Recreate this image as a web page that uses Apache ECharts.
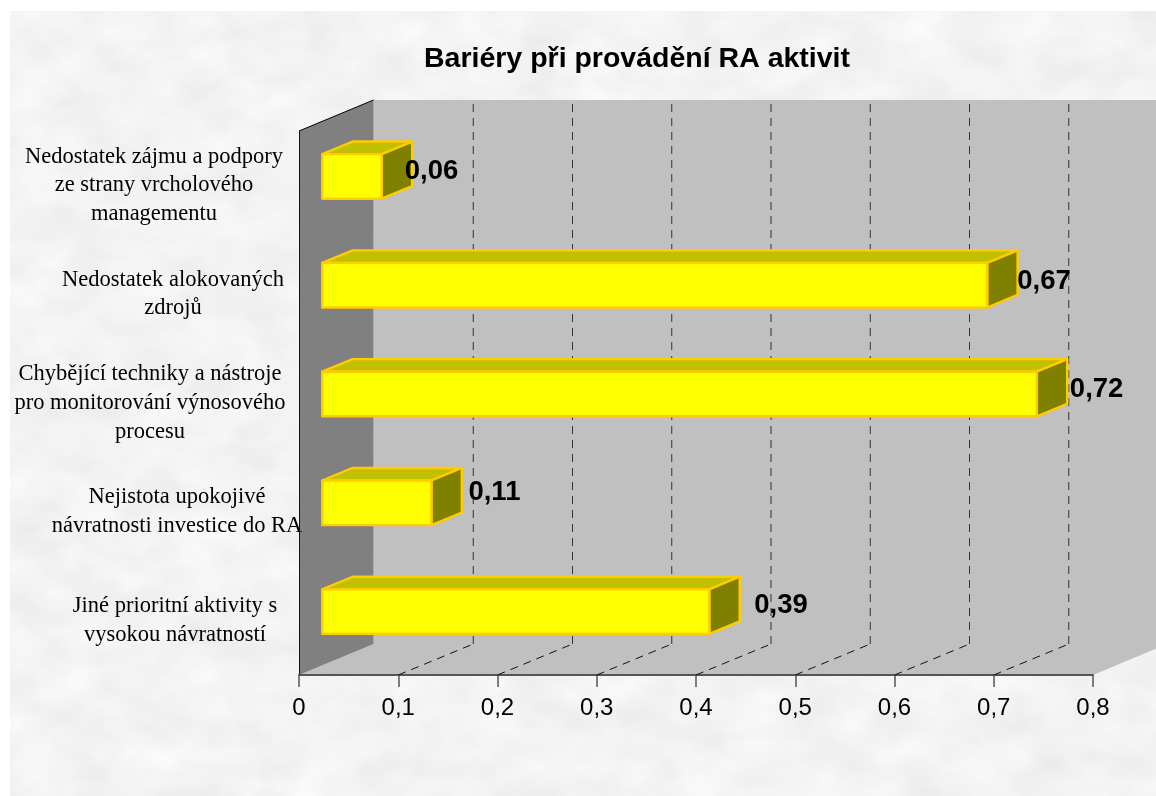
<!DOCTYPE html>
<html lang="cs">
<head>
<meta charset="utf-8">
<title>Bariéry při provádění RA aktivit</title>
<script src="https://cdn.jsdelivr.net/npm/echarts@6/dist/echarts.min.js"></script>
<style>
  html, body { margin: 0; padding: 0; background: #fff; width: 1156px; height: 796px; overflow: hidden; }
  #panel { position: absolute; left: 10px; top: 11px; width: 1146px; height: 785px; }
  #chart { position: absolute; left: 0; top: 0; width: 1156px; height: 796px; }
</style>
</head>
<body>
<!-- mottled paper fill behind the chart -->
<svg id="panel" xmlns="http://www.w3.org/2000/svg">
  <filter id="paper" x="0" y="0" width="100%" height="100%" color-interpolation-filters="sRGB">
    <feTurbulence type="fractalNoise" baseFrequency="0.018 0.026" numOctaves="3" seed="7"/>
    <feColorMatrix type="matrix" values="0.08 0 0 0 0.913  0.08 0 0 0 0.913  0.08 0 0 0 0.913  0 0 0 0 1"/>
  </filter>
  <rect width="100%" height="100%" fill="#f3f3f3" filter="url(#paper)"/>
</svg>
<div id="chart"></div>
<script>
// Chart content
const chartTitle = 'Bariéry při provádění RA aktivit';
const categories = [
  ['Nedostatek zájmu a podpory', 'ze strany vrcholového', 'managementu'],
  ['Nedostatek alokovaných', 'zdrojů'],
  ['Chybějící techniky a nástroje', 'pro monitorování výnosového', 'procesu'],
  ['Nejistota upokojivé', 'návratnosti investice do RA'],
  ['Jiné prioritní aktivity s', 'vysokou návratností']
];
const values = [0.06, 0.67, 0.72, 0.11, 0.39];
const axisMax = 0.8;
const axisStep = 0.1;

// Widths of the centred label blocks, one per category
const labelBlockWidths = [260, 222, 268, 214, 218];
// Hand placement of the value labels, measured from the front corner of each bar
const labelShiftX = [23, 30, 33, 37, 45];
const labelShiftY = [-4.5, -3.5, -5, -10, -6];

// Pseudo-3D projection of the plot box
const DEPTH_X = 75;
const DEPTH_Y = -31;
const BAR_NEAR = 0.31;      // share of the depth where the bar's front face sits
const BAR_FAR = 0.715;      // share of the depth where the bar's back face sits
const BAR_HALF = 22.3;
const BAR_LIFT = -9;

const COLORS = {
  wall: '#c0c0c0', side: '#808080',
  front: '#ffff00', top: '#c0c000', end: '#808000', edge: '#ffcc00'
};

const fmt = v => String(v).replace('.', ',');
const tickValues = [];
for (let i = 0; i * axisStep <= axisMax + 1e-9; i++) tickValues.push(+(i * axisStep).toFixed(1));

const chart = echarts.init(document.getElementById('chart'), null, { renderer: 'canvas' });

// Vertical extent of the plot, taken from the first and last category bands
function plotExtent(api) {
  const band = api.size([0, 1])[1];
  return {
    top: api.coord([0, 0])[1] - band / 2,
    bottom: api.coord([0, categories.length - 1])[1] + band / 2
  };
}

// Walls and floor of the box
function renderWalls(params, api) {
  const { top, bottom } = plotExtent(api);
  const x0 = api.coord([0, 0])[0];
  const x1 = api.coord([axisMax, 0])[0];
  const poly = (points, fill) => ({ type: 'polygon', shape: { points }, style: { fill } });
  const dx = DEPTH_X - 0.5;
  const dy = DEPTH_Y;
  return {
    type: 'group',
    children: [
      poly([[x0 + dx, top + dy], [x1 + dx, top + dy], [x1 + dx, bottom + dy], [x0 + dx, bottom + dy]], COLORS.wall),
      poly([[x0, bottom], [x1, bottom], [x1 + dx, bottom + dy], [x0 + dx, bottom + dy]], COLORS.wall),
      poly([[x0, bottom], [x0, top], [x0 + dx, top + dy], [x0 + dx, bottom + dy]], COLORS.side),
      { type: 'line', shape: { x1: x0, y1: top, x2: x0 + dx, y2: top + dy }, style: { stroke: '#000', lineWidth: 1 } }
    ]
  };
}

// One dashed gridline per tick: across the floor, then up the back wall
function renderGrid(params, api) {
  const { top, bottom } = plotExtent(api);
  const x = api.coord([api.value(0), 0])[0];
  const dash = { lineWidth: 1, lineDash: [8, 6] };
  const bx = x + DEPTH_X, by = bottom + DEPTH_Y;
  return {
    type: 'group',
    children: [
      { type: 'line', shape: { x1: x, y1: bottom, x2: bx, y2: by }, style: { stroke: '#111', ...dash } },
      { type: 'line', shape: { x1: bx, y1: by, x2: bx, y2: top + DEPTH_Y }, style: { stroke: '#333', ...dash } }
    ]
  };
}

// A box-shaped bar, projected through the same depth as the walls
function renderBar(params, api) {
  const v = api.value(0);
  const c = api.value(1);
  const s = api.coord([0, c]);
  const e = api.coord([v, c]);
  const nx = DEPTH_X * BAR_NEAR;
  const fx = DEPTH_X * (BAR_FAR - BAR_NEAR);
  const fy = DEPTH_Y * (BAR_FAR - BAR_NEAR);
  const l = s[0] + nx, r = e[0] + nx;
  const t = s[1] + BAR_LIFT - BAR_HALF, b = s[1] + BAR_LIFT + BAR_HALF;
  const edge = { stroke: COLORS.edge, lineWidth: 2.4, lineJoin: 'round' };
  const i = params.dataIndex;
  return {
    type: 'group',
    children: [
      { type: 'polygon', shape: { points: [[l, t], [l + fx, t + fy], [r + fx, t + fy], [r, t]] }, style: { fill: COLORS.top, ...edge } },
      { type: 'polygon', shape: { points: [[r, t], [r + fx, t + fy], [r + fx, b + fy], [r, b]] }, style: { fill: COLORS.end, ...edge } },
      { type: 'polygon', shape: { points: [[l, t], [r, t], [r, b], [l, b]] }, style: { fill: COLORS.front, ...edge } },
      {
        type: 'text',
        z2: 10,
        style: {
          x: r + labelShiftX[i],
          y: s[1] + BAR_LIFT + labelShiftY[i],
          text: fmt(v),
          fill: '#000',
          font: 'bold 27.5px "Liberation Sans", Arial, sans-serif',
          textAlign: 'left',
          textVerticalAlign: 'middle'
        }
      }
    ]
  };
}

// Each category gets a fixed-width token, so lines stay centred inside a right-aligned block
const labelRich = {};
labelBlockWidths.forEach((w, i) => {
  labelRich['c' + i] = { width: w, align: 'center', lineHeight: 28.6, fontSize: 22.5, color: '#000', fontFamily: '"Liberation Serif", "Times New Roman", serif' };
});
const categoryNames = categories.map(lines => lines.join('\n'));

chart.setOption({
  animation: false,
  backgroundColor: 'transparent',
  title: {
    text: chartTitle,
    left: 632,
    top: 40,
    textAlign: 'center',
    textStyle: { fontFamily: '"Liberation Sans", Arial, sans-serif', fontSize: 28.5, fontWeight: 'bold', color: '#000' }
  },
  grid: { left: 299, top: 131, width: 794, height: 544, containLabel: false },
  xAxis: {
    type: 'value',
    min: 0,
    max: axisMax,
    interval: axisStep,
    splitLine: { show: false },
    axisLine: { show: true, lineStyle: { color: '#555', width: 2 } },
    axisTick: { show: true, length: 12, lineStyle: { color: '#555', width: 1.5 } },
    axisLabel: {
      margin: 21,
      fontFamily: '"Liberation Sans", Arial, sans-serif',
      fontSize: 24,
      color: '#000',
      formatter: v => fmt(v)
    }
  },
  yAxis: {
    type: 'category',
    inverse: true,
    data: categoryNames,
    axisLine: { show: true, lineStyle: { color: '#111', width: 1 } },
    axisTick: { show: false },
    axisLabel: {
      interval: 0,
      margin: 15,
      align: 'right',
      formatter: (name, index) => name.split('\n').map(line => `{c${index}|${line}}`).join('\n'),
      rich: labelRich
    }
  },
  series: [
    { type: 'custom', coordinateSystem: 'cartesian2d', renderItem: renderWalls, data: [[0, 0]], z: 0, clip: false, silent: true },
    { type: 'custom', coordinateSystem: 'cartesian2d', renderItem: renderGrid, data: tickValues.slice(1, -1).map(v => [v, 0]), z: 1, clip: false, silent: true },
    { type: 'custom', coordinateSystem: 'cartesian2d', renderItem: renderBar, data: values.map((v, i) => [v, i]), encode: { x: 0, y: 1 }, z: 3, clip: false }
  ]
});
</script>
</body>
</html>
